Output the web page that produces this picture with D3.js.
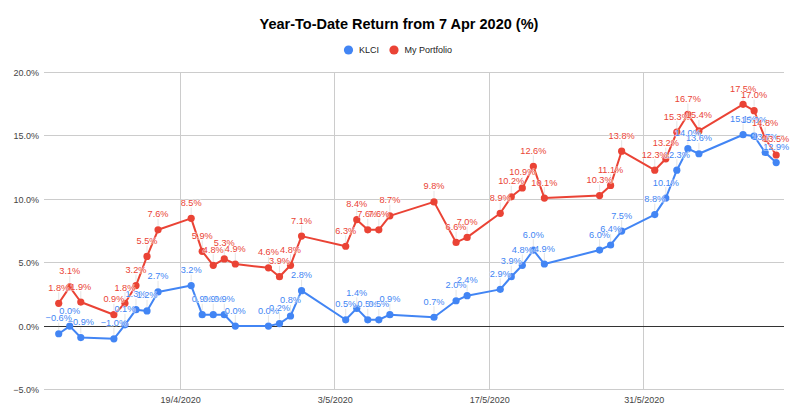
<!DOCTYPE html>
<html>
<head>
<meta charset="utf-8">
<script src="https://cdn.jsdelivr.net/npm/d3@7"></script>
<style>
  html, body { margin: 0; padding: 0; background: #fff; }
  svg { display: block; font-family: "Liberation Sans", Arial, sans-serif; }
</style>
</head>
<body>
<svg id="chart" width="800" height="413"></svg>
<script>
const dates = ["2020-04-08","2020-04-09","2020-04-10","2020-04-13","2020-04-14","2020-04-15","2020-04-16","2020-04-17",
  "2020-04-20","2020-04-21","2020-04-22","2020-04-23","2020-04-24","2020-04-27","2020-04-28","2020-04-29","2020-04-30",
  "2020-05-04","2020-05-05","2020-05-06","2020-05-07","2020-05-08","2020-05-12","2020-05-14","2020-05-15",
  "2020-05-18","2020-05-19","2020-05-20","2020-05-21","2020-05-22","2020-05-27","2020-05-28","2020-05-29",
  "2020-06-01","2020-06-02","2020-06-03","2020-06-04","2020-06-05","2020-06-09","2020-06-10","2020-06-11","2020-06-12"];
const klci = [-0.6,0.0,-0.9,-1.0,0.1,1.3,1.2,2.7,
  3.2,0.9,0.9,0.9,0.0,0.0,0.2,0.8,2.8,
  0.5,1.4,0.5,0.5,0.9,0.7,2.0,2.4,
  2.9,3.9,4.8,6.0,4.9,6.0,6.4,7.5,
  8.8,10.1,12.3,14.0,13.6,15.1,15.0,13.7,12.9];
const portfolio = [1.8,3.1,1.9,0.9,1.8,3.2,5.5,7.6,
  8.5,5.9,4.8,5.3,4.9,4.6,3.9,4.8,7.1,
  6.3,8.4,7.6,7.6,8.7,9.8,6.6,7.0,
  8.9,10.2,10.9,12.6,10.1,10.3,11.1,13.8,
  12.3,13.2,15.3,16.7,15.4,17.5,17.0,14.8,13.5];
const seriesNames = ["KLCI","My Portfolio"];
const seriesColors = ["#4285F4","#EA4335"];
const yTicks = [-5,0,5,10,15,20];
const xTickDates = ["2020-04-19","2020-05-03","2020-05-17","2020-05-31"];
const xTickLabels = ["19/4/2020","3/5/2020","17/5/2020","31/5/2020"];
const title = "Year-To-Date Return from 7 Apr 2020 (%)";

const parse = d3.timeParse("%Y-%m-%d");
const svg = d3.select("#chart");

const x = d3.scaleTime()
  .domain([new Date(2020,3,6,16), new Date(2020,5,12,17)])
  .range([44, 784]);
const y = d3.scaleLinear().domain([-5,20]).range([389.5,72.6]);

// gridlines
const grid = svg.append("g");
grid.selectAll("line.h").data(yTicks).join("line")
  .attr("x1",44).attr("x2",784)
  .attr("y1",d=>y(d)).attr("y2",d=>y(d))
  .attr("stroke", d=> d===0 ? "#333" : "#ccc").attr("stroke-width",1)
  .attr("shape-rendering","crispEdges");
grid.selectAll("line.v").data(xTickDates).join("line")
  .attr("x1",d=>x(parse(d))).attr("x2",d=>x(parse(d)))
  .attr("y1",y(20)).attr("y2",y(-5))
  .attr("stroke","#ccc").attr("stroke-width",1)
  .attr("shape-rendering","crispEdges");
// redraw zero line on top
grid.append("line").attr("x1",44).attr("x2",784).attr("y1",y(0)).attr("y2",y(0))
  .attr("stroke","#333").attr("shape-rendering","crispEdges");

// y axis labels
const yAxis = d3.axisLeft(y).tickValues(yTicks).tickSize(0).tickPadding(5)
  .tickFormat(d=>d3.format(".1f")(d)+"%");
const yg = svg.append("g").attr("transform","translate(44,0)").call(yAxis);
yg.select(".domain").remove();
yg.selectAll("text").attr("font-size","9px").attr("fill","#444")
  .attr("font-family","'Liberation Sans', Arial, sans-serif");

// x axis labels
const xAxis = d3.axisBottom(x).tickValues(xTickDates.map(parse)).tickSize(0).tickPadding(7)
  .tickFormat((d,i)=>xTickLabels[i]);
const xg = svg.append("g").attr("transform",`translate(0,${y(-5)})`).call(xAxis);
xg.select(".domain").remove();
xg.selectAll("text").attr("font-size","9px").attr("fill","#444")
  .attr("font-family","'Liberation Sans', Arial, sans-serif");

const allSeries = [klci, portfolio];
const line = d3.line().x((d,i)=>x(parse(dates[i]))).y(d=>y(d));

allSeries.forEach((vals,s)=>{
  const g = svg.append("g");
  // stems
  g.selectAll("line.stem").data(vals).join("line")
    .attr("x1",(d,i)=>x(parse(dates[i]))).attr("x2",(d,i)=>x(parse(dates[i])))
    .attr("y1",d=>y(d)-4).attr("y2",d=>y(d)-11)
    .attr("stroke","#999").attr("stroke-opacity",0.25).attr("stroke-width",1);
  g.append("path").datum(vals).attr("d",line)
    .attr("fill","none").attr("stroke",seriesColors[s]).attr("stroke-width",2)
    .attr("stroke-linejoin","round");
  g.selectAll("circle").data(vals).join("circle")
    .attr("cx",(d,i)=>x(parse(dates[i]))).attr("cy",d=>y(d)).attr("r",3.6)
    .attr("fill",seriesColors[s]);
});
allSeries.forEach((vals,s)=>{
  svg.append("g").selectAll("text").data(vals).join("text")
    .attr("x",(d,i)=>x(parse(dates[i]))).attr("y",d=>y(d)-12.5)
    .attr("text-anchor","middle").attr("font-size","9.2px")
    .attr("fill",seriesColors[s])
    .attr("stroke","#fff").attr("stroke-width",1.2).attr("stroke-opacity",0.7)
    .attr("paint-order","stroke")
    .text(d=>d3.format(".1f")(d)+"%");
});

// title
svg.append("text").attr("x",399).attr("y",29).attr("text-anchor","middle")
  .attr("font-size","14.5px").attr("font-weight","bold").attr("fill","#000")
  .text(title);

// legend
const legX = [348.5, 394];
const leg = svg.append("g");
seriesNames.forEach((n,i)=>{
  leg.append("circle").attr("cx",legX[i]).attr("cy",50).attr("r",4.6).attr("fill",seriesColors[i]);
  leg.append("text").attr("x",legX[i]+10.5).attr("y",53.2).attr("font-size","9px")
    .attr("fill","#222").text(n);
});
</script>
</body>
</html>
